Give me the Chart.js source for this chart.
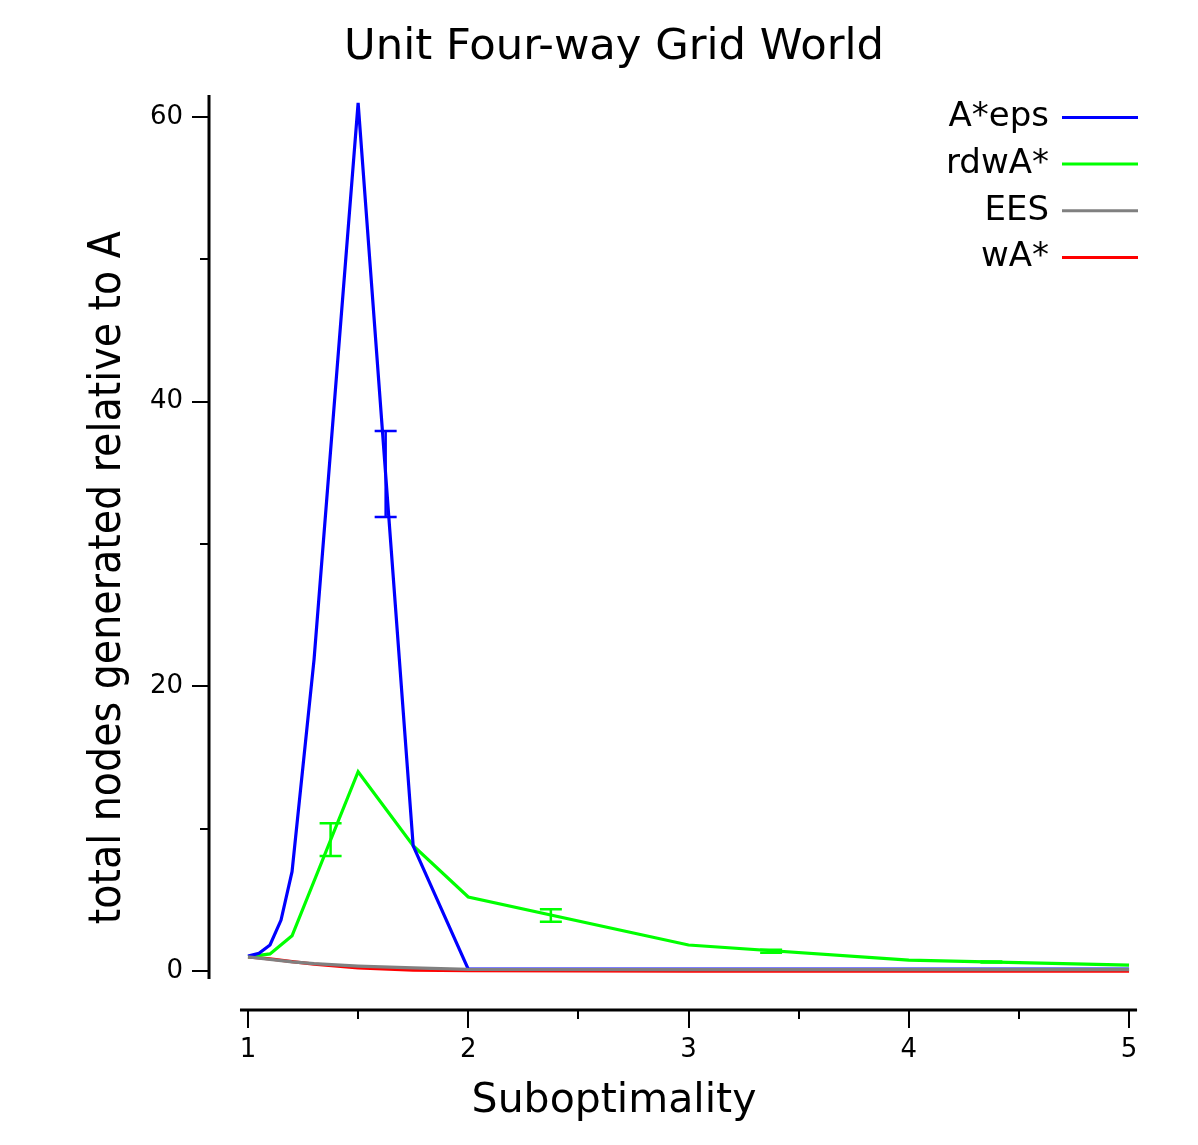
<!DOCTYPE html>
<html>
<head>
<meta charset="utf-8">
<script src="https://cdn.jsdelivr.net/npm/chart.js@4.4.1/dist/chart.umd.min.js"></script>
<style>
html,body{margin:0;padding:0;background:#fff;}
#wrap{width:1198px;height:1145px;}
</style>
</head>
<body>
<div id="wrap"><canvas id="c" width="1198" height="1145"></canvas></div>
<script>
// ---- data ----
const seriesNames  = ['A*eps', 'rdwA*', 'EES', 'wA*'];
const seriesColors = ['#0000ff', '#00ff00', '#808080', '#ff0000'];

const aepsX = [1, 1.05, 1.1, 1.15, 1.2, 1.3, 1.5, 1.75, 2, 3, 4, 5];
const aepsY = [1.05, 1.24, 1.83, 3.58, 6.98, 21.9, 61.0, 8.8, 0.14, 0.14, 0.13, 0.13];

const rdwX = [1, 1.1, 1.2, 1.5, 1.75, 2, 3, 4, 5];
const rdwY = [1.0, 1.2, 2.48, 14.0, 8.8, 5.2, 1.83, 0.77, 0.42];

const eesX = [1, 1.1, 1.2, 1.3, 1.5, 1.75, 2, 3, 4, 5];
const eesY = [1.0, 0.82, 0.65, 0.52, 0.35, 0.22, 0.12, 0.1, 0.1, 0.1];

const waX = [1, 1.1, 1.2, 1.3, 1.5, 1.75, 2, 3, 4, 5];
const waY = [1.0, 0.86, 0.66, 0.48, 0.22, 0.07, 0.02, 0.0, 0.0, 0.0];

// error bars
const errSeries = [0, 1, 1, 1, 1];
const errX      = [1.625, 1.375, 2.375, 3.375, 4.375];
const errLow    = [31.9, 8.08, 3.46, 1.28, 0.6];
const errHigh   = [37.94, 10.38, 4.35, 1.49, 0.67];

const xTicks = [1, 2, 3, 4, 5];
const xMinorTicks = [1.5, 2.5, 3.5, 4.5];
const yTicks = [0, 20, 40, 60];
const yMinorTicks = [10, 30, 50];

const titleText = 'Unit Four-way Grid World';
const xTitle = 'Suboptimality';
const yTitle = 'total nodes generated relative to A';

// ---- chart ----
const allX = [aepsX, rdwX, eesX, waX];
const allY = [aepsY, rdwY, eesY, waY];
const drawOrder = [2, 3, 1, 4];

const datasets = seriesNames.map((name, i) => ({
  label: name,
  data: allX[i].map((x, j) => ({x: x, y: allY[i][j]})),
  borderColor: seriesColors[i],
  backgroundColor: seriesColors[i],
  borderWidth: 3.2,
  pointRadius: 0,
  tension: 0,
  fill: false,
  order: drawOrder[i]
}));

const FONT = 'DejaVu Sans';

const framePlugin = {
  id: 'frame',
  afterDraw(chart) {
    const ctx = chart.ctx;
    const xs = chart.scales.x, ys = chart.scales.y;
    const axX = chart.chartArea.left;
    const axY = ys.getPixelForValue(0) + 39;
    ctx.save();
    ctx.strokeStyle = '#000';
    ctx.lineCap = 'butt';
    ctx.lineWidth = 3;
    ctx.beginPath();
    ctx.moveTo(axX, ys.getPixelForValue(60) - 22);
    ctx.lineTo(axX, ys.getPixelForValue(0) + 8);
    ctx.stroke();
    ctx.beginPath();
    ctx.moveTo(xs.getPixelForValue(1) - 8, axY);
    ctx.lineTo(xs.getPixelForValue(5) + 8, axY);
    ctx.stroke();
    ctx.lineWidth = 2;
    ctx.beginPath();
    yTicks.forEach(v => { const p = Math.round(ys.getPixelForValue(v)); ctx.moveTo(axX, p); ctx.lineTo(axX - 17, p); });
    yMinorTicks.forEach(v => { const p = Math.round(ys.getPixelForValue(v)); ctx.moveTo(axX, p); ctx.lineTo(axX - 9, p); });
    xTicks.forEach(v => { const p = Math.round(xs.getPixelForValue(v)); ctx.moveTo(p, axY); ctx.lineTo(p, axY + 18); });
    xMinorTicks.forEach(v => { const p = Math.round(xs.getPixelForValue(v)); ctx.moveTo(p, axY); ctx.lineTo(p, axY + 9); });
    ctx.stroke();
    ctx.restore();
  }
};

const errorBarPlugin = {
  id: 'errbars',
  afterDatasetsDraw(chart) {
    const ctx = chart.ctx;
    const xs = chart.scales.x, ys = chart.scales.y;
    ctx.save();
    ctx.lineWidth = 2.5;
    errX.forEach((xv, i) => {
      const px = xs.getPixelForValue(xv);
      const lo = ys.getPixelForValue(errLow[i]);
      const hi = ys.getPixelForValue(errHigh[i]);
      ctx.strokeStyle = seriesColors[errSeries[i]];
      ctx.beginPath();
      ctx.moveTo(px, lo); ctx.lineTo(px, hi);
      ctx.moveTo(px - 11, lo); ctx.lineTo(px + 11, lo);
      ctx.moveTo(px - 11, hi); ctx.lineTo(px + 11, hi);
      ctx.stroke();
    });
    ctx.restore();
  }
};

const legendPlugin = {
  id: 'innerLegend',
  afterDraw(chart) {
    const ctx = chart.ctx;
    const ca = chart.chartArea;
    ctx.save();
    ctx.font = '34px "' + FONT + '"';
    ctx.textAlign = 'right';
    ctx.textBaseline = 'middle';
    chart.data.datasets.forEach((ds, i) => {
      const y = ca.top + 22 + i * 46.7;
      ctx.fillStyle = '#000';
      ctx.fillText(ds.label, ca.right - 149, y);
      ctx.strokeStyle = ds.borderColor;
      ctx.lineWidth = 3;
      ctx.beginPath();
      ctx.moveTo(ca.right - 136, y);
      ctx.lineTo(ca.right - 60, y);
      ctx.stroke();
    });
    ctx.restore();
  }
};

new Chart(document.getElementById('c'), {
  type: 'line',
  data: { datasets: datasets },
  options: {
    responsive: false,
    animation: false,
    devicePixelRatio: 1,
    layout: { padding: { left: 30, right: 0, top: 0, bottom: 0 } },
    plugins: {
      legend: { display: false },
      tooltip: { enabled: false },
      title: {
        display: true, text: titleText, color: '#000',
        font: { family: FONT, size: 43.3, weight: 'normal', lineHeight: 1.2 },
        padding: { top: 22, bottom: 21.44 }
      },
      subtitle: {
        display: true, position: 'bottom', text: xTitle, color: '#000',
        font: { family: FONT, size: 41, weight: 'normal', lineHeight: 1.2 },
        padding: { top: 0, bottom: 19 }
      }
    },
    scales: {
      x: {
        type: 'linear', min: 0.823, max: 5.313,
        grid: { display: false, drawTicks: false },
        border: { display: false },
        ticks: { color: '#000', font: { family: FONT, size: 26 }, padding: -6, mirror: true, maxRotation: 0, autoSkip: false },
        afterBuildTicks: s => { s.ticks = xTicks.map(v => ({ value: v })); },
        afterFit: s => { s.height = 16.8; }
      },
      y: {
        type: 'linear', min: -6.25, max: 61.52,
        grid: { display: false, drawTicks: false },
        border: { display: false },
        ticks: { color: '#000', font: { family: FONT, size: 26 }, padding: 26, autoSkip: false },
        afterBuildTicks: s => { s.ticks = yTicks.map(v => ({ value: v })); },
        afterFit: s => { s.width = 179; },
        title: {
          display: true, text: yTitle, color: '#000',
          font: { family: '"DejaVu Sans Condensed", "DejaVu Sans"', size: 44, weight: 'normal', lineHeight: 1.2 },
          padding: { top: 52, bottom: 0 }
        }
      }
    }
  },
  plugins: [framePlugin, errorBarPlugin, legendPlugin]
});
</script>
</body>
</html>
